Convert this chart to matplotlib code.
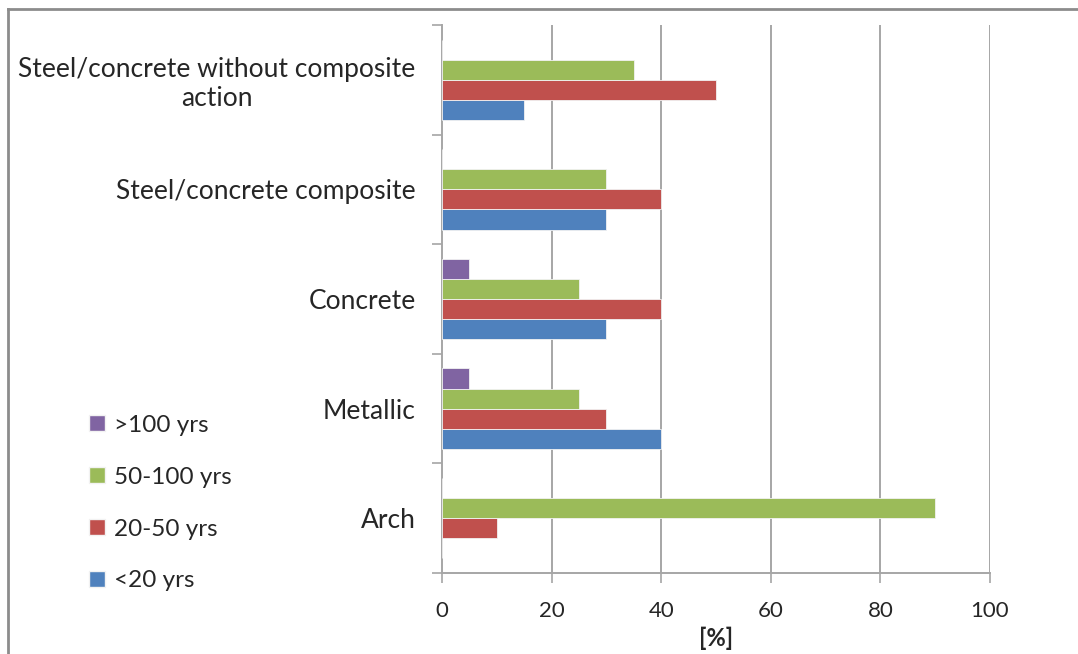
import matplotlib
matplotlib.use("Agg")
import matplotlib.pyplot as plt
import numpy as np
from matplotlib.lines import Line2D
from matplotlib.patches import Patch

plt.rcParams['font.family'] = ['Lato', 'DejaVu Sans']

categories = ["Arch", "Metallic", "Concrete", "Steel/concrete composite",
              "Steel/concrete without composite\naction"]
series_labels = ["<20 yrs", "20-50 yrs", "50-100 yrs", ">100 yrs"]
under_20 = [0, 40, 30, 30, 15]
from_20_to_50 = [10, 30, 40, 40, 50]
from_50_to_100 = [90, 25, 25, 30, 35]
over_100 = [0, 5, 5, 0, 0]
x_ticks = [0, 20, 40, 60, 80, 100]

colors = ["#4F81BD", "#C0504D", "#9BBB59", "#8064A2"]
series = [under_20, from_20_to_50, from_50_to_100, over_100]
text_c = "#262626"

fig = plt.figure(figsize=(10.78, 6.54), dpi=100)
ax = fig.add_axes([442 / 1078, 1 - 573 / 654, (990 - 442) / 1078, (573 - 25) / 654])

y = np.arange(len(categories))
h = 0.183
offsets = [-1.5 * h, -0.5 * h, 0.5 * h, 1.5 * h]
for vals, c, off, lab in zip(series, colors, offsets, series_labels):
    ax.barh(y + off, vals, height=h, color=c, edgecolor="#f2f2f2",
            linewidth=0.6, label=lab, zorder=3)

grid_c = "#A6A6A6"
ax.set_xlim(0, 100)
ax.set_ylim(-0.5, len(categories) - 0.5)
ax.set_xticks(x_ticks)
ax.set_xticklabels([str(t) for t in x_ticks])
for t in x_ticks[1:]:
    ax.axvline(t, color=grid_c, lw=1.4, zorder=1)

ax.set_yticks(y)
ax.set_yticklabels(categories, ha="right", multialignment="center")
ax.set_yticks(np.arange(len(categories) + 1) - 0.5, minor=True)
ax.tick_params(axis="y", which="major", length=0, pad=19, labelsize=19,
               labelcolor=text_c)
ax.tick_params(axis="y", which="minor", length=7, width=1.2, color=grid_c,
               direction="out")
ax.tick_params(axis="x", length=7, width=1.2, color=grid_c, direction="out",
               pad=13, labelsize=16, labelcolor=text_c)

for side in ["top", "right"]:
    ax.spines[side].set_visible(False)
for side in ["left", "bottom"]:
    ax.spines[side].set_color(grid_c)
    ax.spines[side].set_linewidth(1.4)

ax.set_xlabel("[%]", fontsize=17, fontweight="bold", color=text_c,
              labelpad=4)

handles = [Patch(facecolor=c, edgecolor="#f2f2f2", label=l)
           for c, l in zip(colors[::-1], series_labels[::-1])]
fig.legend(handles=handles, loc="upper left",
           bbox_to_anchor=(67 / 1078, 1 - 393 / 654), frameon=False,
           fontsize=17.5, handlelength=0.65, handleheight=0.65,
           handletextpad=0.4, labelspacing=1.27, labelcolor=text_c)

# outer chart frame (top and left edges)
fig.add_artist(Line2D([8 / 1078, 1], [1 - 9 / 654, 1 - 9 / 654],
                      transform=fig.transFigure, color="#8C8C8C", lw=2))
fig.add_artist(Line2D([8 / 1078, 8 / 1078], [0, 1 - 9 / 654],
                      transform=fig.transFigure, color="#8C8C8C", lw=2))

fig.savefig("out.png", dpi=100, facecolor="white")
